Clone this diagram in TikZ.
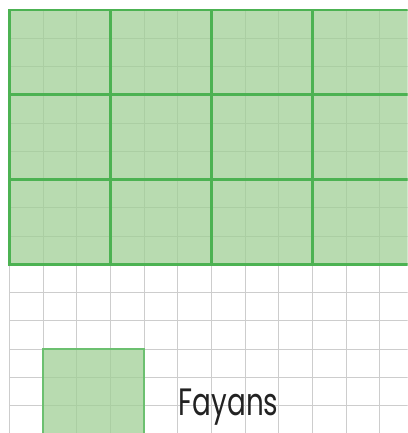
\documentclass[tikz,border=0pt]{standalone}
\usepackage{fontspec}
\setmainfont{Poppins}
\definecolor{gridgray}{RGB}{205,205,205}
\definecolor{tilegreen}{RGB}{76,178,82}
\definecolor{tileshade}{RGB}{160,207,150}
\definecolor{tileedge}{RGB}{108,192,112}
\definecolor{labelink}{RGB}{34,34,34}

\begin{document}
\begin{tikzpicture}[
    x=0.9cm, y=-0.755cm,
    papergrid/.style={draw=gridgray, line width=0.7pt},
    tilefill/.style={fill=tileshade, fill opacity=0.75},
    tileline/.style={draw=tilegreen, line width=2.2pt},
    smalltile/.style={draw=tileedge, line width=1.6pt},
    label/.style={font=\fontsize{29}{30}\selectfont, text=labelink, anchor=base west, inner sep=0pt, xscale=0.73},
]

% === Frame ===
\useasboundingbox (-0.282,-0.354) rectangle (11.825,14.973);
\clip (-0.282,-0.354) rectangle (11.825,14.973);

% === Squared paper ===
\foreach \i in {0,...,12} \draw[papergrid] (\i,0) -- (\i,15.5);
\foreach \j in {0,...,15} \draw[papergrid] (0,\j) -- (12.5,\j);

% === Large area covered with tiles ===
\fill[tilefill] (0,0) rectangle (12.5,9);
\foreach \i in {0,3,6,9,12} \draw[tileline] (\i,0) -- (\i,9);
\foreach \j in {0,3,6,9} \draw[tileline] (-0.04,\j) -- (12.5,\j);

% === One tile ===
\fill[tilefill] (1,12) rectangle (4,15.5);
\draw[smalltile] (1,15.5) -- (1,12) -- (4,12) -- (4,15.5);
\node[label] (fayans) at (5.02,14.34) {Fayans};

\end{tikzpicture}
\end{document}
